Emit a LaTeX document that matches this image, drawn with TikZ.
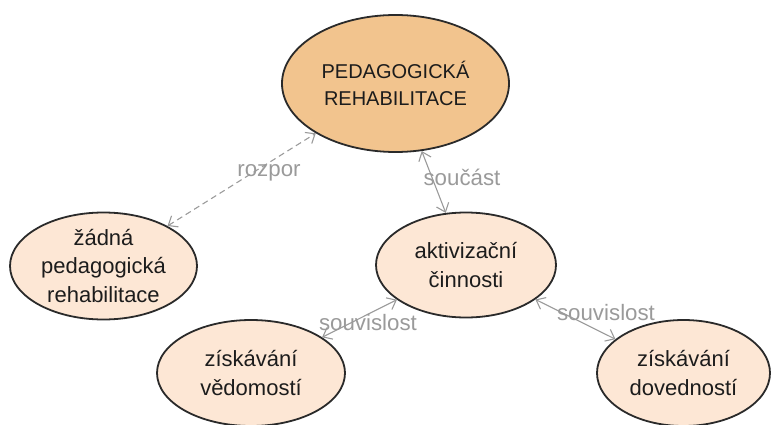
\documentclass[tikz,border=0pt]{standalone}
\usepackage{fontspec}
\setmainfont{Liberation Sans}
\usetikzlibrary{arrows.meta,shapes.geometric}
\definecolor{rootfill}{HTML}{F2C48E}
\definecolor{leaffill}{HTML}{FDE7D5}
\definecolor{rim}{HTML}{2A2A2A}
\definecolor{linkgray}{HTML}{9A9A9A}
\definecolor{ink}{HTML}{1C1C1C}
\tikzset{
  bubble/.style={ellipse, draw=rim, line width=1.8pt, inner sep=0pt},
  rootbubble/.style={bubble, fill=rootfill},
  leafbubble/.style={bubble, fill=leaffill},
  roottext/.style={align=center, text=ink, font=\fontsize{20}{27}\selectfont},
  leaftext/.style={align=center, text=ink, font=\fontsize{22}{28.5}\selectfont},
  barb/.tip={Straight Barb[length=8pt,width=13pt,line width=1.1pt]},
  link/.style={draw=linkgray, line width=1.1pt, barb-barb},
  linklabel/.style={text=linkgray, font=\fontsize{22.3}{25}\selectfont, inner sep=0pt},
}
\begin{document}
\begin{tikzpicture}[x=1pt, y=-1pt]
  \path[use as bounding box, clip] (0,0) rectangle (771,425);

  % concept bubbles
  \node[rootbubble, minimum width=227pt, minimum height=137pt] (ped) at (395.5,83.5) {};
  \node[leafbubble, minimum width=187pt, minimum height=107pt] (none) at (103.5,266) {};
  \node[leafbubble, minimum width=180pt, minimum height=105pt] (act) at (466,265) {};
  \node[leafbubble, minimum width=188pt, minimum height=106pt] (know) at (251,373) {};
  \node[leafbubble, minimum width=173pt, minimum height=106pt] (skill) at (683.5,373) {};

  % bubble texts
  \node[roottext] (ped-t) at (ped) {PEDAGOGICKÁ\\REHABILITACE};
  \node[leaftext] (none-t) at (none) {žádná\\pedagogická\\rehabilitace};
  \node[leaftext] (act-t) at (act) {aktivizační\\činnosti};
  \node[leaftext] (know-t) at (know) {získávání\\vědomostí};
  \node[leaftext] (skill-t) at (skill) {získávání\\dovedností};

  % relations
  \draw[link, dashed, dash pattern=on 6pt off 4pt] (none) -- (ped);
  \draw[link] (ped) -- (act);
  \draw[link] (act) -- (know);
  \draw[link] (act) -- (skill);

  % relation labels
  \node[linklabel] (l-rozpor) at (269,173) {rozpor};
  \node[linklabel] (l-soucast) at (462,177) {součást};
  \node[linklabel] (l-souv1) at (368,323) {souvislost};
  \node[linklabel] (l-souv2) at (606,313) {souvislost};
\end{tikzpicture}
\end{document}
